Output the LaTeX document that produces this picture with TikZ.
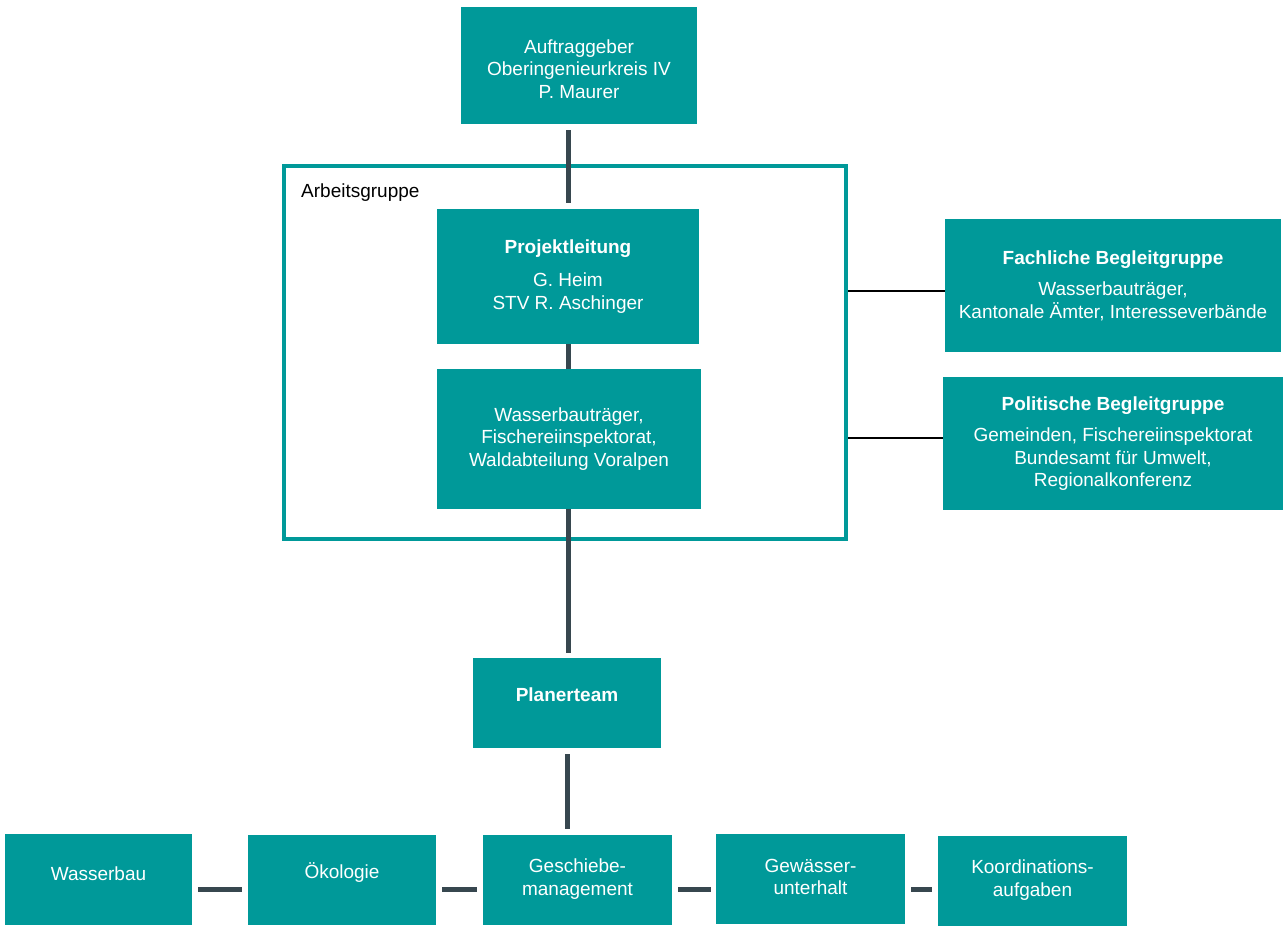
\documentclass[tikz,border=0pt]{standalone}
\usepackage{fontspec}
\setmainfont{Liberation Sans}
\definecolor{tealbox}{RGB}{0,153,153}
\definecolor{connclr}{RGB}{55,71,79}
\begin{document}
\begin{tikzpicture}[x=1pt,y=-1pt,
  box/.style={fill=tealbox, draw=none, inner sep=0pt, text=white, align=center,
    font=\fontsize{19}{22.5}\selectfont},
  lbl/.style={text=white, align=center, inner sep=0pt, font=\fontsize{19}{22.5}\selectfont},
  link/.style={draw=connclr, line width=5pt},
  thinlink/.style={draw=black, line width=2pt}]
\useasboundingbox (0,0) rectangle (1288,937);

% frame
\node[draw=tealbox, line width=4pt, minimum width=562, minimum height=373, inner sep=0pt] (frame) at (565,352.5) {};
\node[anchor=west, inner sep=0pt, font=\fontsize{19}{22.5}\selectfont] (ag) at (301,193) {Arbeitsgruppe};

% boxes
\node[box, minimum width=236, minimum height=117] (auf) at (579,65.5) {};
\node[lbl] at ([yshift=-3.5]auf.center) {Auftraggeber\\Oberingenieurkreis IV\\P. Maurer};
\node[box, minimum width=262, minimum height=135] (pl) at (568,276.5) {\textbf{Projektleitung}\\[11pt]G. Heim\\STV R. Aschinger};
\node[box, minimum width=264, minimum height=140] (wb) at (569,439) {Wasserbauträger,\\Fischereiinspektorat,\\Waldabteilung Voralpen};
\node[box, minimum width=336, minimum height=133] (fach) at (1113,285.5) {\textbf{Fachliche Begleitgruppe}\\[9pt]Wasserbauträger,\\Kantonale Ämter, Interesseverbände};
\node[box, minimum width=340, minimum height=133] (pol) at (1113,443.5) {\textbf{Politische Begleitgruppe}\\[9pt]Gemeinden, Fischereiinspektorat\\Bundesamt für Umwelt,\\Regionalkonferenz};
\node[box, minimum width=188, minimum height=90] (pt) at (567,703) {};
\node[lbl] at ([yshift=8]pt.center) {\textbf{Planerteam}};

\node[box, minimum width=187, minimum height=91] (w) at (98.5,879.5) {};
\node[lbl] at ([yshift=6]w.center) {Wasserbau};
\node[box, minimum width=188, minimum height=90] (ok) at (342,880) {};
\node[lbl] at ([yshift=7]ok.center) {Ökologie};
\node[box, minimum width=189, minimum height=90] (gs) at (577.5,880) {};
\node[lbl] at ([yshift=1]gs.center) {Geschiebe-\\management};
\node[box, minimum width=189, minimum height=90] (gw) at (810.5,879) {};
\node[lbl] at ([yshift=2]gw.center) {Gewässer-\\unterhalt};
\node[box, minimum width=189, minimum height=90] (ko) at (1032.5,881) {};
\node[lbl] at ([yshift=1]ko.center) {Koordinations-\\aufgaben};

% vertical connectors
\draw[link, shorten <=6pt, shorten >=6pt] (pl.north |- auf.south) -- (pl.north);
\draw[link] (pl.south) -- (pl.south |- wb.north);
\draw[link, shorten >=5pt] (pl.south |- wb.south) -- (pl.south |- pt.north);
\draw[link, shorten <=6pt, shorten >=6pt] (pt.south) -- (pt.south |- gs.north);

% bottom connectors
\draw[link, shorten <=6pt, shorten >=6pt] (w.east |- 0,889) -- (ok.west |- 0,889);
\draw[link, shorten <=6pt, shorten >=6pt] (ok.east |- 0,889) -- (gs.west |- 0,889);
\draw[link, shorten <=6pt, shorten >=5pt] (gs.east |- 0,889) -- (gw.west |- 0,889);
\draw[link, shorten <=6pt, shorten >=6pt] (gw.east |- 0,889) -- (ko.west |- 0,889);

% thin connectors to side groups
\draw[thinlink] (frame.east |- 0,291) -- (fach.west |- 0,291);
\draw[thinlink] (frame.east |- 0,438) -- (pol.west |- 0,438);
\end{tikzpicture}
\end{document}
